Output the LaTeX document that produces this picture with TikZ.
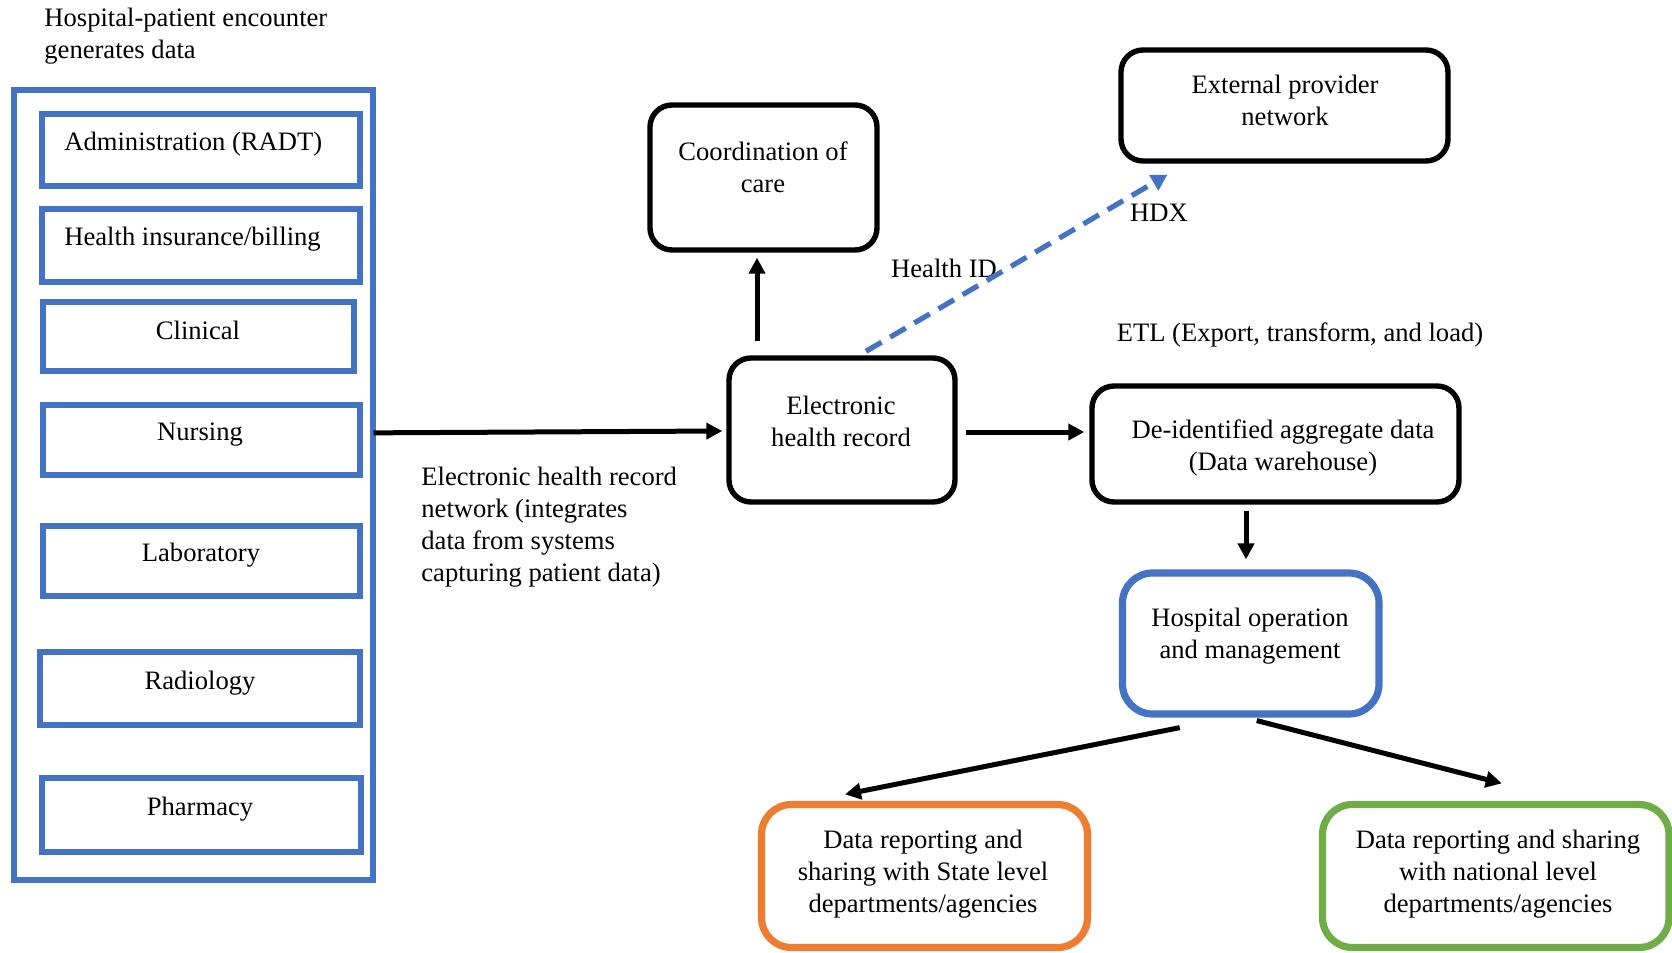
\documentclass[tikz,border=0pt]{standalone}
\usepackage{fontspec}
\setmainfont{Liberation Serif}
\usetikzlibrary{arrows.meta,fit,calc}
\definecolor{boxblue}{HTML}{4472C4}
\definecolor{boxorange}{HTML}{ED7D31}
\definecolor{boxgreen}{HTML}{70AD47}
\begin{document}
\begin{tikzpicture}[x=0.5pt,y=-0.5pt,
  every node/.style={font=\fontsize{13.3}{16}\selectfont},
  lbl/.style={inner sep=0pt, align=center},
  srcbox/.style={draw=boxblue, line width=3pt, inner sep=0pt},
  flowbox/.style={draw=black, line width=2.7pt, rounded corners=11pt, inner sep=0pt},
  outbox/.style={line width=3.6pt, rounded corners=15pt, inner sep=0pt},
  arr/.style={line width=2.5pt, -{Triangle[length=8pt,width=8pt]}},
  hdx/.style={draw=boxblue, line width=2.6pt, dash pattern=on 9pt off 5pt,
    -{Triangle[length=8pt,width=8.5pt]}}]
\clip (0,0) rectangle (1672,953);

% source systems
\node[lbl, align=left, anchor=west] (title) at (44,36) {Hospital-patient encounter\\generates data};
\node[draw=boxblue, line width=2.75pt, inner sep=0pt, fit={(14,90)(373,880)}] (outer) {};
\node[srcbox, fit={(42.3,113.7)(359.7,186.3)}] (adm) {};
\node[srcbox, fit={(42.3,208.7)(359.7,282)}] (ins) {};
\node[srcbox, fit={(42.5,301.6)(354,371.3)}] (cli) {};
\node[srcbox, fit={(42.5,405)(359.5,474.7)}] (nur) {};
\node[srcbox, fit={(42.5,525.5)(359.5,596)}] (lab) {};
\node[srcbox, fit={(39.7,652)(359.7,725)}] (rad) {};
\node[srcbox, fit={(41.7,778)(361,852)}] (pha) {};
\node[lbl, anchor=west] at (64,144) {Administration (RADT)};
\node[lbl, anchor=west] at (64,239) {Health insurance/billing};
\node[lbl] at (198,330) {Clinical};
\node[lbl] at (200,435) {Nursing};
\node[lbl] at (201,555) {Laboratory};
\node[lbl] at (200,683) {Radiology};
\node[lbl] at (200,809) {Pharmacy};

% flow boxes
\node[flowbox, fit={(650,105)(877,250)}] (coord) {};
\node[lbl] at (763,167) {Coordination of\\care};
\node[flowbox, fit={(1121,50)(1448,161)}] (ext) {};
\node[lbl] at (1285,100) {External provider\\network};
\node[flowbox, fit={(729,358)(955,502)}] (ehr) {};
\node[lbl] at (841,421) {Electronic\\health record};
\node[flowbox, fit={(1092,386)(1459,502)}] (deid) {};
\node[lbl] at (1283,448) {De-identified aggregate data\\(Data warehouse)};
\node[outbox, draw=boxblue, fit={(1122.5,573)(1379,714)}] (hop) {};
\node[lbl] at (1250,636) {Hospital operation\\and management};
\node[outbox, draw=boxorange, fit={(761.5,804.5)(1087.5,947.5)}] (state) {};
\node[lbl] at (923,874) {Data reporting and\\sharing with State level\\departments/agencies};
\node[outbox, draw=boxgreen, fit={(1322.5,804.5)(1669,947.5)}] (nat) {};
\node[lbl] at (1498,874) {Data reporting and sharing\\with national level\\departments/agencies};

% connector labels
\node[lbl, align=left, anchor=west] at (421,527) {Electronic health record\\network (integrates\\data from systems\\capturing patient data)};
\node[lbl] at (944,268) {Health ID};
\node[lbl] at (1159,213) {HDX};
\node[lbl] at (1300,335) {ETL (Export, transform, and load)};

% connectors
\draw[arr] ($(nur.east)+(11,-7)$) -- ($(ehr.west)+(-4,1)$);
\draw[arr] ($(ehr.north)+(-85,-14)$) coordinate (up) -- ($(up |- coord.south)+(0,5)$);
\draw[hdx] ($(ehr.north)+(24,-4)$) -- ($(ext.south)+(-117,11)$);
\draw[arr] ($(ehr.east)+(8,2)$) -- ($(deid.west)+(-5,-12)$);
\draw[arr] ($(deid.south)+(-29.5,6)$) coordinate (dn) -- ($(dn |- hop.north)+(0,-10)$);
\draw[arr] ($(hop.south)+(-71,10)$) -- ($(state.north)+(-79.5,-6.5)$);
\draw[arr] ($(hop.south)+(6,3)$) -- ($(nat.north)+(6,-17.5)$);
\end{tikzpicture}
\end{document}
